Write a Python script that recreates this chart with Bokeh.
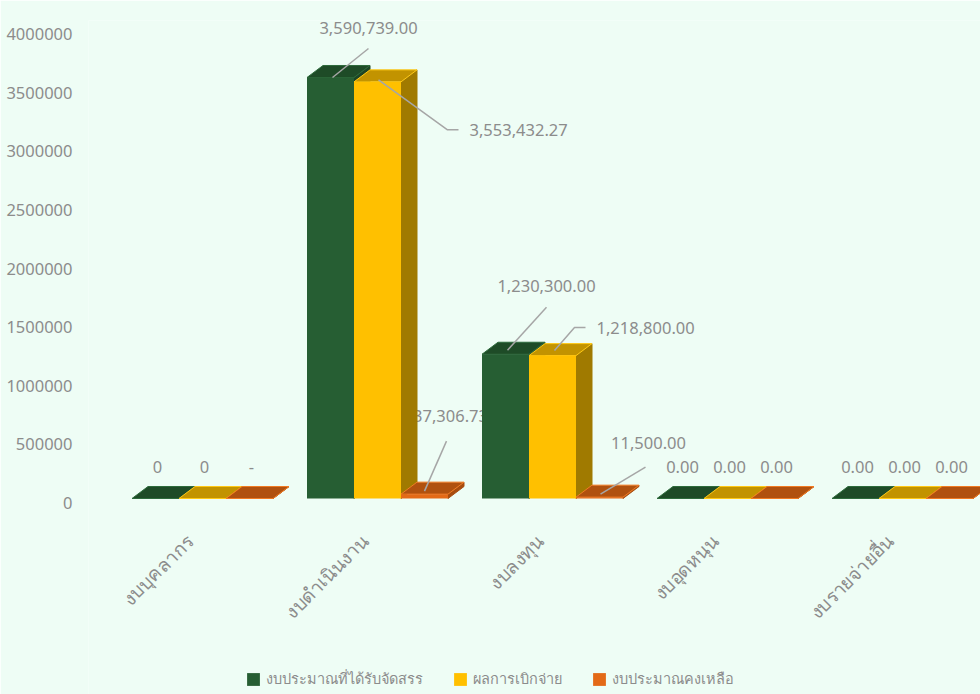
import numpy as np
from bokeh.plotting import figure
from bokeh.models import Range1d, FixedTicker, Legend, LegendItem
from bokeh.core.properties import value
from bokeh.embed import file_html
from bokeh.resources import INLINE

# ---------------- data ----------------
categories = ["งบบุคลากร", "งบดำเนินงาน", "งบลงทุน", "งบอุดหนุน", "งบรายจ่ายอื่น"]
series_names = ["งบประมาณที่ได้รับจัดสรร", "ผลการเบิกจ่าย", "งบประมาณคงเหลือ"]
allocated = [0, 3590739.00, 1230300.00, 0, 0]
disbursed = [0, 3553432.27, 1218800.00, 0, 0]
remaining = [0, 37306.73, 11500.00, 0, 0]
allocated_labels = ["0", "3,590,739.00", "1,230,300.00", "0.00", "0.00"]
disbursed_labels = ["0", "3,553,432.27", "1,218,800.00", "0.00", "0.00"]
remaining_labels = ["-", "37,306.73", "11,500.00", "0.00", "0.00"]
y_ticks = [0, 500000, 1000000, 1500000, 2000000, 2500000, 3000000, 3500000, 4000000]

# ---------------- style ----------------
BG = "#EEFDF5"
GRAY = "#8C8C8C"
FONT = "Noto Sans"
front_colors = ["#265E33", "#FFC000", "#E36A17"]
top_colors = ["#1E4B27", "#C29300", "#B0510F"]
side_colors = ["#1D4525", "#A07A00", "#A84C0E"]
edge_colors = ["#2E6B3C", "#FFC814", "#F07A22"]

W, H = 980, 694
BL, BR, BT, BB = 88, 0, 20, 0
frame_w = W - BL - BR
frame_h = H - BT - BB
PX_PER_CAT = 175.0
PX_PER_UNIT = 117.25e-6
ZERO_FROM_BOTTOM = 694 - 498
x_start = -(202.0 - BL) / PX_PER_CAT
x_end = x_start + frame_w / PX_PER_CAT
y_start = -ZERO_FROM_BOTTOM / PX_PER_UNIT
y_end = y_start + frame_h / PX_PER_UNIT


def dxp(px):
    return px / PX_PER_CAT


def dyp(px):  # screen px (downwards positive) -> data offset
    return -px / PX_PER_UNIT


bar_w = dxp(47)
DX = dxp(16)
DY = dyp(-12)
offsets = [-bar_w, 0.0, bar_w]

p = figure(width=W, height=H, output_backend="svg", toolbar_location=None,
           x_range=Range1d(x_start, x_end), y_range=Range1d(y_start, y_end),
           min_border_left=BL, min_border_right=BR, min_border_top=BT, min_border_bottom=BB,
           background_fill_color=BG, border_fill_color=BG, outline_line_color=None)
p.grid.visible = False

values = [allocated, disbursed, remaining]
labels = [allocated_labels, disbursed_labels, remaining_labels]

# label placement (screen px offsets from the bar's front-top centre)
special = {
    (0, 1): dict(pts=[(2, 0), (38, -29)], txt=(38, -49), align="center"),
    (1, 1): dict(pts=[(1, -2), (70, 48), (81, 48)], txt=(92, 48), align="left"),
    (2, 1): dict(pts=[(0, -3), (22, -53)], txt=(26, -78), align="center"),
    (0, 2): dict(pts=[(2, -4), (41, -47)], txt=(41, -68), align="center"),
    (1, 2): dict(pts=[(2, -5), (22, -28), (33, -28)], txt=(44, -28), align="left"),
    (2, 2): dict(pts=[(1, -3), (46, -30)], txt=(49, -54), align="center"),
}

# labels (drawn first, so bars may cover them as in the original)
for s in range(3):
    for align in ("center", "left"):
        tx, ty, tt = [], [], []
        for i in range(len(categories)):
            xc = i + offsets[s]
            v = values[s][i]
            spec = special.get((s, i))
            if spec is None:
                ox, oy, al = 2, -32, "center"
            else:
                ox, oy = spec["txt"]
                al = spec["align"]
            if al != align:
                continue
            tx.append(xc + dxp(ox))
            ty.append(v + dyp(oy))
            tt.append(labels[s][i])
        if tx:
            p.text(x=tx, y=ty, text=tt, text_align=align, text_baseline="middle",
                   text_font=value(FONT), text_font_size="16.5px", text_color=GRAY)

# 3D bars
front_renderers = []
for s in range(3):
    xs_side, ys_side, xs_top, ys_top = [], [], [], []
    xc_list, v_list = [], []
    for i in range(len(categories)):
        xc = i + offsets[s]
        v = values[s][i]
        xl, xr = xc - bar_w / 2, xc + bar_w / 2
        xs_side.append([xr, xr + DX, xr + DX, xr])
        ys_side.append([0, DY, v + DY, v])
        xs_top.append([xl, xr, xr + DX, xl + DX])
        ys_top.append([v, v, v + DY, v + DY])
        xc_list.append(xc)
        v_list.append(v)
    p.patches(xs_side, ys_side, fill_color=side_colors[s], line_color=side_colors[s], line_width=1)
    p.patches(xs_top, ys_top, fill_color=top_colors[s], line_color=edge_colors[s], line_width=1)
    r = p.vbar(x=xc_list, top=v_list, bottom=0, width=bar_w, fill_color=front_colors[s],
               line_color=None)
    front_renderers.append(r)

# leader lines
lx, ly = [], []
for (s, i), spec in special.items():
    xc = i + offsets[s]
    v = values[s][i]
    lx.append([xc + dxp(a) for a, b in spec["pts"]])
    ly.append([v + dyp(b) for a, b in spec["pts"]])
p.multi_line(lx, ly, line_color="#A6A6A6", line_width=1.5)

# axes (tick labels of the 3D back wall sit slightly below the front faces)
y_shift = dyp(4.5)
y_tick_pos = [t + y_shift for t in y_ticks]
p.yaxis.ticker = FixedTicker(ticks=y_tick_pos)
p.yaxis.major_label_overrides = {tp: str(t) for tp, t in zip(y_tick_pos, y_ticks)}
p.yaxis.axis_line_color = None
p.yaxis.major_tick_line_color = None
p.yaxis.minor_tick_line_color = None
p.yaxis.major_label_standoff = 10
p.yaxis.major_label_text_color = GRAY
p.yaxis.major_label_text_font = FONT
p.yaxis.major_label_text_font_size = "16.5px"

x_shift = dxp(-12)
x_tick_pos = [i + x_shift for i in range(len(categories))]
p.xaxis.ticker = FixedTicker(ticks=x_tick_pos)
p.xaxis.major_label_overrides = {tp: c for tp, c in zip(x_tick_pos, categories)}
p.xaxis.fixed_location = 0
p.xaxis.major_label_orientation = np.pi / 4
p.xaxis.axis_line_color = None
p.xaxis.major_tick_line_color = None
p.xaxis.minor_tick_line_color = None
p.xaxis.major_label_standoff = 33
p.xaxis.major_label_text_color = GRAY
p.xaxis.major_label_text_font = FONT
p.xaxis.major_label_text_font_size = "19px"

legend = Legend(items=[LegendItem(label=series_names[s], renderers=[front_renderers[s]])
                       for s in range(3)],
                orientation="horizontal", location=(157, 4),
                background_fill_alpha=0, border_line_alpha=0,
                label_text_color=GRAY, label_text_font=FONT, label_text_font_size="14.5px",
                label_height=16, glyph_width=16, glyph_height=16, label_standoff=5,
                spacing=29, padding=0, margin=0)
p.add_layout(legend, "center")

html = file_html(p, INLINE)
html = html.replace("<body>", '<body style="background:%s;">' % BG, 1)
open("out.html", "w").write(html)
